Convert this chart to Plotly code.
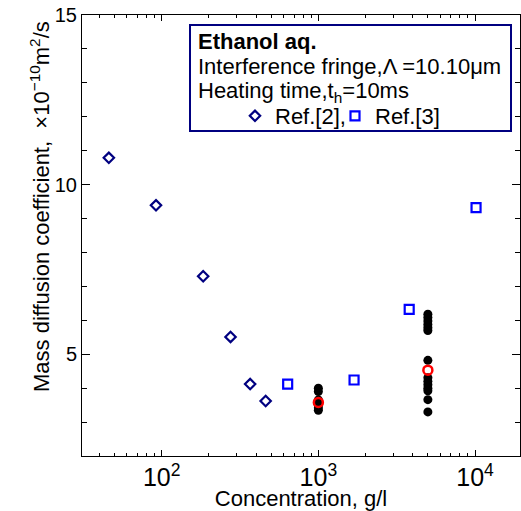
import plotly.graph_objects as go

# Data
ref2_conc = [46, 92, 184, 275, 367, 461]
ref2_D = [10.79, 9.39, 7.30, 5.51, 4.12, 3.62]

ref3_conc = [637, 1690, 3800, 10150]
ref3_D = [4.12, 4.24, 6.32, 9.32]

meas_conc = [1000] * 6 + [5000] * 14
meas_D = [4.00, 3.90, 3.65, 3.50, 3.42, 3.35,
          6.18, 6.08, 5.98, 5.88, 5.78, 5.70, 4.82,
          4.31, 4.20, 4.10, 4.00, 3.92, 3.66, 3.30]

mean_conc = [1000, 5000]
mean_D = [3.58, 4.53]

FONT = "Liberation Sans, Arial, sans-serif"
FS = 22
TFS = 20

fig = go.Figure()
fig.add_trace(go.Scatter(x=ref2_conc, y=ref2_D, mode="markers", name="Ref.[2],", legend="legend",
                         marker=dict(symbol="diamond-open", size=8, color="#000080",
                                     line=dict(width=2.2, color="#000080"))))
fig.add_trace(go.Scatter(x=ref3_conc, y=ref3_D, mode="markers", name="Ref.[3]", legend="legend2",
                         marker=dict(symbol="square-open", size=9, color="#0000FF",
                                     line=dict(width=2.2, color="#0000FF"))))
fig.add_trace(go.Scatter(x=meas_conc, y=meas_D, mode="markers", showlegend=False,
                         marker=dict(symbol="circle", size=9, color="black")))
fig.add_trace(go.Scatter(x=mean_conc, y=mean_D, mode="markers", showlegend=False,
                         marker=dict(symbol="circle-open", size=9, color="#FF0000",
                                     line=dict(width=2.5, color="#FF0000"))))

L, T, R, B = 82, 15, 1, 55
W, H = 521, 511
pw, ph = W - L - R, H - T - B

def px(x):
    return (x - L) / pw

def py(y):
    return (H - B - y) / ph

leg_common = dict(orientation="h", yanchor="middle", xanchor="left",
                  bgcolor="rgba(0,0,0,0)", borderwidth=0,
                  font=dict(family=FONT, size=FS), itemclick=False)

fig.update_layout(
    width=W, height=H,
    margin=dict(l=L, r=R, t=T, b=B, autoexpand=False),
    paper_bgcolor="white", plot_bgcolor="white",
    font=dict(family=FONT, size=FS, color="black"),
    showlegend=True,
    legend=dict(x=px(235), y=py(116), **leg_common),
    legend2=dict(x=px(335), y=py(116), **leg_common),
)
fig.update_xaxes(type="log", range=[1.4914, 4.287], dtick=1, automargin=False,
                 exponentformat="power", showexponent="all",
                 showline=True, linecolor="black", linewidth=1, mirror="ticks",
                 ticks="inside", ticklen=6, tickcolor="black", showgrid=False, zeroline=False,
                 minor=dict(ticks="inside", ticklen=3, tickcolor="black", showgrid=False),
                 tickfont=dict(family=FONT, size=TFS),
                 title=dict(text="Concentration, g/l", font=dict(family=FONT, size=FS), standoff=4))
fig.update_yaxes(range=[2, 15], tickvals=[5, 10, 15], automargin=False,
                 showline=True, linecolor="black", linewidth=1, mirror="ticks",
                 ticks="inside", ticklen=8, tickcolor="black", showgrid=False, zeroline=False,
                 minor=dict(tickvals=[3, 4, 6, 7, 8, 9, 11, 12, 13, 14], ticks="inside", ticklen=5,
                            tickcolor="black", showgrid=False),
                 tickfont=dict(family=FONT, size=TFS))

fig.add_annotation(text="Mass diffusion coefficient,  \u00d710<sup>\u221210</sup>m<sup>2</sup>/s",
                   xref="paper", yref="paper", x=px(40), y=py(207), textangle=-90,
                   xanchor="center", yanchor="middle", showarrow=False,
                   font=dict(family=FONT, size=FS))

# legend box
fig.add_shape(type="rect", xref="paper", yref="paper",
              x0=px(190), x1=px(511), y0=py(131), y1=py(25),
              line=dict(color="#000080", width=2), fillcolor="white", layer="below")

lines = ["<b>Ethanol aq.</b>",
         "Interference fringe,\u039b =10.10\u03bcm",
         "Heating time,t<sub>h</sub>=10ms"]
ys = [42, 67, 92]
for t, yy in zip(lines, ys):
    fig.add_annotation(text=t, xref="paper", yref="paper", x=px(196), y=py(yy),
                       xanchor="left", yanchor="middle", showarrow=False, align="left",
                       font=dict(family=FONT, size=FS))

fig.write_html("out.html", config={"displayModeBar": False},
               post_script="document.body.style.margin='0';")
